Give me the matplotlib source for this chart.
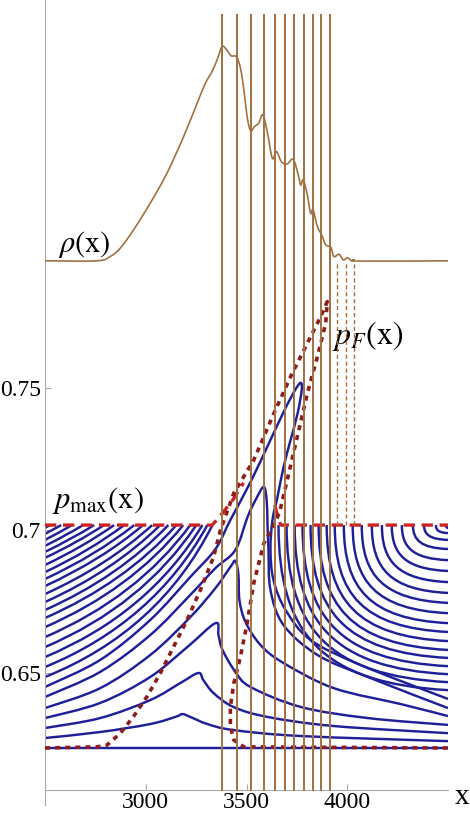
import numpy as np
import matplotlib
matplotlib.use('Agg')
import matplotlib.pyplot as plt
from matplotlib.path import Path
from matplotlib.patches import PathPatch

plt.rcParams['font.family'] = ['Liberation Serif', 'DejaVu Serif']
plt.rcParams['mathtext.fontset'] = 'stix'

# ---------------- data ----------------
X_MIN, X_MAX = 2500, 4500
P_MAX = 0.7019          # p_max plateau
P_BASE = 0.6237         # lowest (flat) trajectory

# density rho(x) drawn on the same axes (offset)
rho_x = [2500, 2757, 2823, 2873, 2939, 3022, 3105, 3188, 3255, 3296, 3329, 3354, 3379, 3404, 3424,
         3450, 3470, 3487, 3503, 3520, 3540, 3561, 3581, 3603, 3628, 3649, 3673, 3702, 3732, 3757,
         3769, 3782, 3802, 3818, 3830, 3852, 3873, 3893, 3918, 3934, 3959, 3981, 4001, 4021, 4037,
         4064, 4500]
rho_y = [0.7946, 0.7946, 0.7961, 0.7990, 0.8054, 0.8148, 0.8253, 0.8382, 0.8499, 0.8569, 0.8610,
         0.8651, 0.8698, 0.8684, 0.8665, 0.8662, 0.8622, 0.8546, 0.8452, 0.8403, 0.8417, 0.8429,
         0.8458, 0.8399, 0.8306, 0.8329, 0.8294, 0.8286, 0.8302, 0.8247, 0.8212, 0.8230, 0.8177,
         0.8113, 0.8125, 0.8066, 0.8037, 0.8002, 0.7994, 0.7961, 0.7969, 0.7949, 0.7957, 0.7946,
         0.7950, 0.7945, 0.7946]

# vertical lines (solid) and dashed ones
vline_x = [3377, 3455, 3523, 3585, 3639, 3691, 3737, 3784, 3828, 3872, 3913]
vline_top = 0.8809
dvline_x = [3951, 3993, 4034]
dvline_top = 0.7946

# p_F(x) (dotted)
pF_x = [2500, 2757, 2807, 2873, 2939, 3006, 3072, 3138, 3205, 3271, 3337, 3371, 3437, 3536, 3636,
        3719, 3802, 3868, 3901, 3893, 3852, 3802, 3752, 3702, 3667, 3649, 3586, 3536, 3503, 3470,
        3437, 3420, 3420, 3437, 3487, 4500]
pF_p = [0.6237, 0.6241, 0.6247, 0.6288, 0.6347, 0.6417, 0.6499, 0.6592, 0.6686, 0.6791, 0.6908,
        0.7002, 0.7131, 0.7247, 0.7411, 0.7540, 0.7657, 0.7750, 0.7803, 0.7727, 0.7610, 0.7481,
        0.7329, 0.7177, 0.7072, 0.7037, 0.6955, 0.6815, 0.6674, 0.6557, 0.6464, 0.6382, 0.6312,
        0.6265, 0.6241, 0.6237]

# p_max(x) (dashed)
pmax_x = [2500, 3330, 3380, 3435, 3485, np.nan, 3640, 3655, 3670, 4500]
pmax_p = [0.7019, 0.7019, 0.7060, 0.7110, 0.7167, np.nan, 0.7090, 0.7050, 0.7019, 0.7019]

# trajectories starting at the left edge and ending on p_max
left_start_p = [0.7009, 0.6988, 0.6967, 0.6946, 0.6925, 0.6904, 0.6879, 0.6854, 0.6830, 0.6805,
                0.6777, 0.6749, 0.6721, 0.6693, 0.6661, 0.6626, 0.6591, 0.6556, 0.6521, 0.6486]
left_end_x = [2525, 2580, 2634, 2689, 2744, 2793, 2843, 2893, 2943, 2987, 3032, 3072, 3112, 3152,
              3186, 3221, 3251, 3281, 3306, 3331]

# trajectories starting on p_max and ending at the right edge
right_start_x = [3659, 3699, 3739, 3778, 3818, 3858, 3898, 3938, 3983, 4027, 4072, 4122, 4172,
                 4221, 4271, 4326, 4381, 4440, 4490]
right_end_p = [0.6440, 0.6468, 0.6496, 0.6524, 0.6553, 0.6581, 0.6612, 0.6644, 0.6675, 0.6710,
               0.6746, 0.6781, 0.6819, 0.6858, 0.6896, 0.6935, 0.6967, 0.6991, 0.7009]

# through-going trajectories (loops)
loopA_x = [2500, 2774, 3022, 3147, 3182, 3221, 3306, 3435, 3769, 4500]
loopA_p = [0.6272, 0.6293, 0.6321, 0.6346, 0.6356, 0.6346, 0.6321, 0.6300, 0.6279, 0.6261]
loopB_x = [2500, 2774, 3022, 3172, 3261, 3286, 3336, 3435, 3604, 3933, 4500]
loopB_p = [0.6307, 0.6342, 0.6405, 0.6465, 0.6500, 0.6475, 0.6430, 0.6381, 0.6346, 0.6314, 0.6289]
loopC_x = [2500, 2774, 3022, 3206, 3346, 3361, 3381, 3445, 3520, 3769, 4102, 4500]
loopC_p = [0.6342, 0.6395, 0.6486, 0.6591, 0.6675, 0.6633, 0.6581, 0.6504, 0.6451, 0.6381, 0.6342,
           0.6318]
loopD_x = [2500, 2774, 3022, 3221, 3346, 3420, 3445, 3460, 3465, 3495, 3570, 3684, 3933, 4266, 4500]
loopD_p = [0.6377, 0.6447, 0.6563, 0.6696, 0.6798, 0.6872, 0.6893, 0.6844, 0.6756, 0.6679, 0.6598,
           0.6535, 0.6447, 0.6391, 0.6349]
loopE_x = [2500, 2774, 3022, 3221, 3346, 3445, 3505, 3545, 3585, 3600, 3604, 3609, 3619, 3684, 3853,
           4102, 4500]
loopE_p = [0.6416, 0.6504, 0.6633, 0.6774, 0.6868, 0.6932, 0.7047, 0.7107, 0.7153, 0.7107, 0.7026,
           0.6932, 0.6791, 0.6668, 0.6563, 0.6486, 0.6377]
loopF_x = [2500, 2774, 3022, 3221, 3346, 3420, 3520, 3619, 3694, 3744, 3769, 3774, 3754, 3719, 3684,
           3654, 3629, 3619, 3634, 3694, 3818, 4067, 4500]
loopF_p = [0.6451, 0.6546, 0.6686, 0.6837, 0.6935, 0.7037, 0.7170, 0.7318, 0.7430, 0.7496, 0.7518,
           0.7493, 0.7412, 0.7318, 0.7223, 0.7118, 0.7037, 0.6932, 0.6826, 0.6721, 0.6616, 0.6528,
           0.6409]

x_ticks = [3000, 3500, 4000]
x_ticklabels = ['3000', '3500', '4000']
y_ticks = [0.65, 0.70, 0.75]
y_ticklabels = ['0.65', '0.7', '0.75']

# ---------------- style ----------------
BLUE = '#1f1f9a'
BROWN = '#a27142'
DOTRED = '#8e1c1c'
DASHRED = '#cc2424'
AXCOL = '#a8a8a8'


def smooth_path(xs, ys):
    """Catmull-Rom curve through the given points, as cubic Bezier segments."""
    pts = np.column_stack([xs, ys]).astype(float)
    n = len(pts)
    verts = [pts[0]]
    codes = [Path.MOVETO]
    for i in range(n - 1):
        p0 = pts[i - 1] if i > 0 else pts[i]
        p1 = pts[i]
        p2 = pts[i + 1]
        p3 = pts[i + 2] if i + 2 < n else pts[i + 1]
        verts += [p1 + (p2 - p0) / 6.0, p2 - (p3 - p1) / 6.0, p2]
        codes += [Path.CURVE4] * 3
    return Path(verts, codes)


fig = plt.figure(figsize=(4.7, 8.13), dpi=100)
ax = fig.add_axes([45 / 470, 8 / 813, 403 / 470, 805 / 813])
ax.set_xlim(X_MIN, X_MAX)
ax.set_ylim(0.6037, 0.8861)
AX_Y = 0.6089

for s in ['top', 'right']:
    ax.spines[s].set_visible(False)
ax.spines['left'].set_color(AXCOL)
ax.spines['bottom'].set_color(AXCOL)
ax.spines['left'].set_linewidth(0.8)
ax.spines['bottom'].set_linewidth(0.8)
ax.spines['bottom'].set_position(('data', AX_Y))

ax.set_xticks(x_ticks)
ax.set_xticklabels(x_ticklabels)
ax.set_yticks(y_ticks)
ax.set_yticklabels(y_ticklabels)
ax.tick_params(direction='in', length=4, width=0.8, color=AXCOL, labelsize=17)
ax.tick_params(axis='x', pad=1.5)
ax.tick_params(axis='y', pad=3)

lw_blue = 1.75
# left family
h_last = left_start_p[-1]
for h, e in zip(left_start_p, left_end_x):
    s = (P_MAX - h) / (P_MAX - h_last)
    a = 0.5 + 0.18 * s
    b = 0.5 - 0.2 * s
    cx = X_MIN + a * (e - X_MIN)
    cy = h + b * (P_MAX - h)
    path = Path([(X_MIN, h), (cx, cy), (e, P_MAX)], [Path.MOVETO, Path.CURVE3, Path.CURVE3])
    ax.add_patch(PathPatch(path, fill=False, ec=BLUE, lw=lw_blue, capstyle='butt', zorder=2))
# right family
for c, d in zip(right_start_x, right_end_p):
    path = Path([(c, P_MAX), (c, d + 0.35 * (P_MAX - d)),
                 (c + 0.25 * (X_MAX - c), d + 0.04 * (P_MAX - d)), (X_MAX, d)],
                [Path.MOVETO, Path.CURVE4, Path.CURVE4, Path.CURVE4])
    ax.add_patch(PathPatch(path, fill=False, ec=BLUE, lw=lw_blue, capstyle='butt', zorder=2))
# loops
for lx, lp in [(loopA_x, loopA_p), (loopB_x, loopB_p), (loopC_x, loopC_p),
               (loopD_x, loopD_p), (loopE_x, loopE_p), (loopF_x, loopF_p)]:
    ax.add_patch(PathPatch(smooth_path(lx, lp), fill=False, ec=BLUE, lw=lw_blue, zorder=2))
ax.plot([X_MIN, X_MAX], [P_BASE, P_BASE], color=BLUE, lw=lw_blue, zorder=2)

# p_max dashed
ax.plot(pmax_x, pmax_p, color=DASHRED, lw=2.4, dashes=(3.4, 2.0), zorder=3)
# p_F dotted
ax.plot(pF_x, pF_p, color=DOTRED, lw=2.6, dashes=(1.4, 1.4), zorder=3)

# vertical lines
for vx in vline_x:
    ax.plot([vx, vx], [AX_Y, vline_top], color=BROWN, lw=1.4, zorder=4)
for vx in dvline_x:
    ax.plot([vx, vx], [P_MAX, dvline_top], color=BROWN, lw=1.0, dashes=(3, 2), zorder=4)

# rho(x)
ax.add_patch(PathPatch(smooth_path(rho_x, rho_y), fill=False, ec=BROWN, lw=1.2, zorder=5))

# labels
ax.text(2565, 0.8002, r'$\rho(\mathrm{x})$', fontsize=22, ha='left', va='center')
ax.text(2535, 0.7104, r'$p_{\mathrm{max}}(\mathrm{x})$', fontsize=22, ha='left', va='center')
ax.text(3925, 0.7682, r'$p_F(\mathrm{x})$', fontsize=23, ha='left', va='center')
fig.text(462 / 470, 1 - 797 / 813, 'x', fontsize=21, ha='center', va='center')

fig.savefig('out.png', dpi=100)
